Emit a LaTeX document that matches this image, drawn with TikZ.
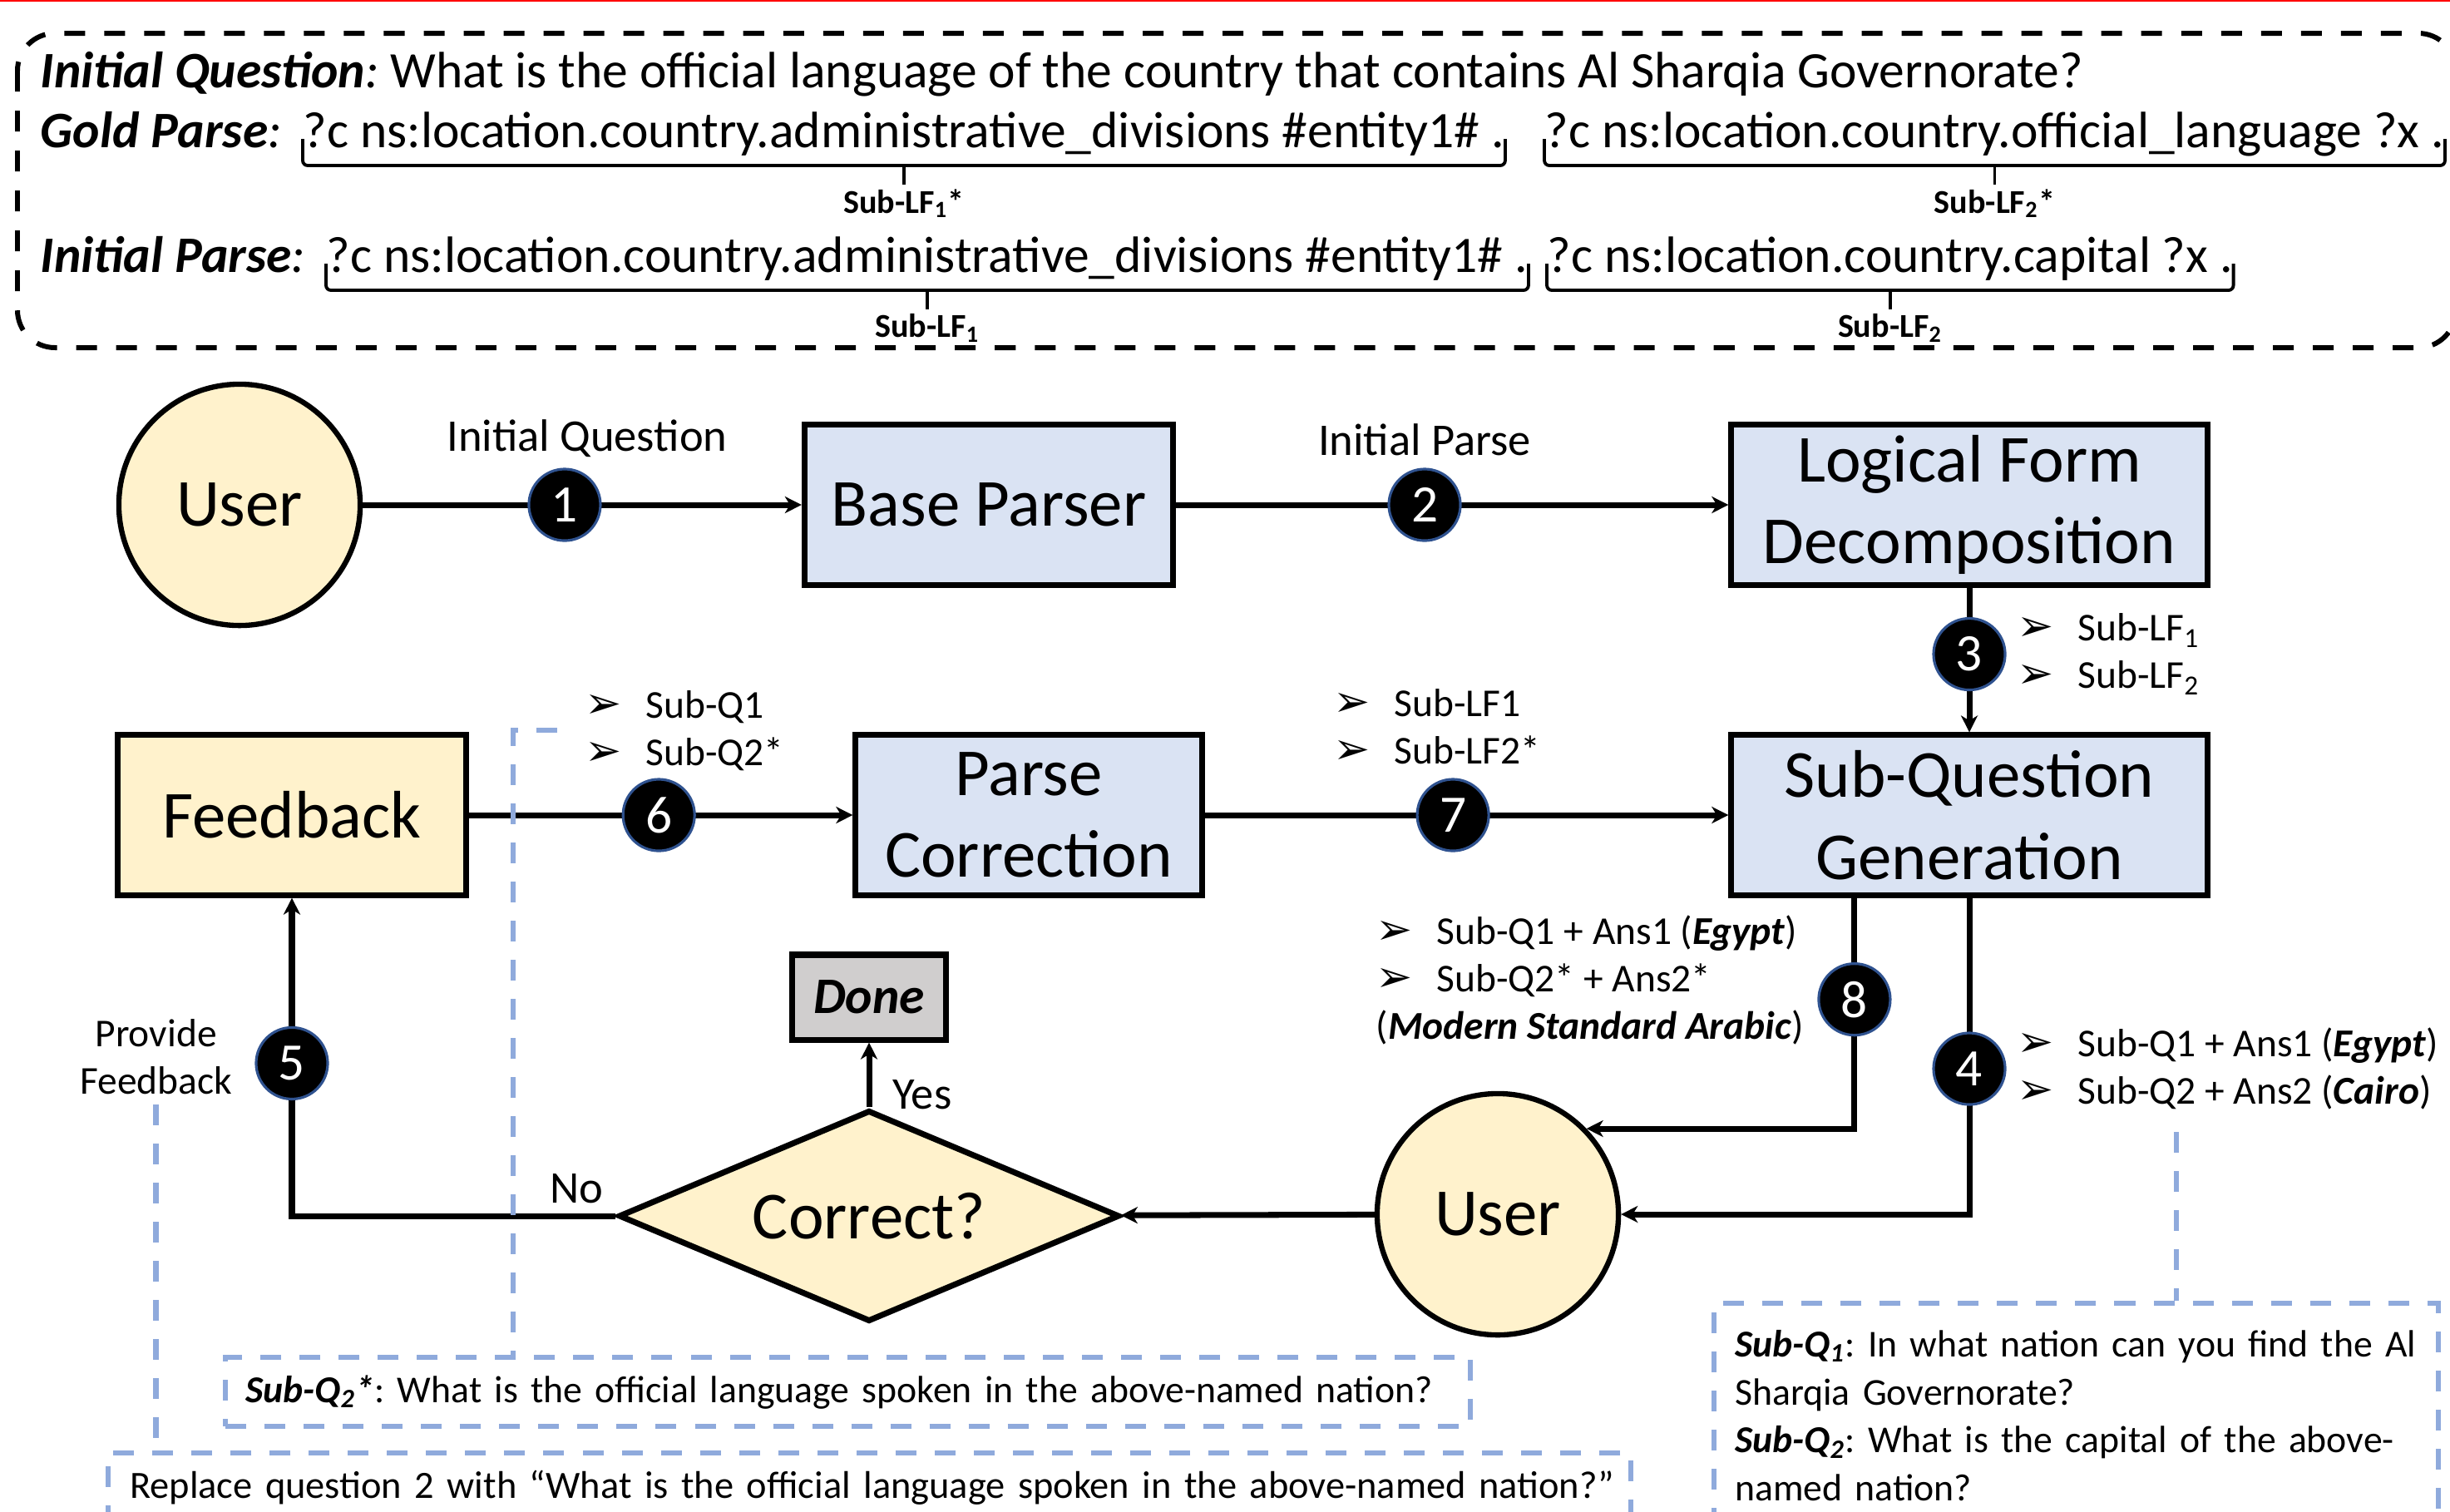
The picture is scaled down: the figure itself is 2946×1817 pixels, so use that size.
\documentclass[tikz,border=0pt]{standalone}
\usepackage{fontspec}
\setmainfont{Carlito}
\newfontfamily\arrowglyphfont{DejaVu Sans}
\usepackage{tikz}
\usetikzlibrary{positioning,shapes.geometric,arrows.meta}
\definecolor{procblue}{HTML}{DAE3F3}
\definecolor{useryellow}{HTML}{FFF2CC}
\definecolor{donegray}{HTML}{D0CECE}
\definecolor{notesblue}{HTML}{8FAADC}
\definecolor{badgerim}{HTML}{2F528F}
\newcommand*\boxsize {\fontsize{23}{28}\selectfont}
\newcommand*\donesize{\fontsize{17.5}{20}\selectfont}
\newcommand*\lblsize {\fontsize{15.5}{17}\selectfont}
\newcommand*\pfbsize {\fontsize{13.5}{16.2}\selectfont}
\newcommand*\listsize{\fontsize{13.5}{16.2}\selectfont}
\newcommand*\notesize{\fontsize{13}{16.4}\selectfont}
\newcommand*\topsize {\fontsize{17.5}{20}\selectfont}
\newcommand*\tagsize {\fontsize{11.4}{13}\selectfont}
\newcommand*\numsize {\fontsize{18}{20}\selectfont}
\newcommand*\bul{\makebox[0.73cm][l]{\arrowglyphfont\fontsize{15}{16}\selectfont ➢}}
\tikzset{
    flow/.style      = {line width=2pt, -{Stealth[length=0.2cm,width=0.2cm,inset=0.06cm]}},
    proc/.style      = {draw, line width=2pt, fill=procblue, font=\boxsize,
                        align=center, inner sep=0pt, minimum height=1.92cm},
    feedbox/.style   = {proc, fill=useryellow},
    donebox/.style   = {proc, fill=donegray, font=\donesize,
                        minimum width=1.84cm, minimum height=1.02cm},
    person/.style    = {draw, circle, line width=1.8pt, fill=useryellow,
                        font=\boxsize, minimum size=2.9cm, inner sep=0pt},
    decision/.style  = {draw, diamond, line width=2pt, fill=useryellow,
                        font=\boxsize, shape aspect=2.37, inner sep=0pt,
                        minimum width=6.02cm, minimum height=2.54cm},
    badge/.style     = {draw=badgerim, circle, fill=black, line width=0.9pt,
                        minimum size=0.86cm, inner sep=0pt, text=white, font=\numsize},
    edgelbl/.style   = {font=\lblsize},
    bullets/.style   = {font=\listsize, align=left, inner sep=0pt},
    topline/.style   = {font=\topsize, inner sep=0pt},
    topframe/.style  = {draw, line width=1.7pt, dash pattern=on 0.25cm off 0.23cm,
                        rounded corners=0.45cm},
    lfbracket/.style = {line width=1.1pt, rounded corners=0.06cm},
    lftag/.style     = {font=\tagsize\bfseries, inner sep=1pt},
    notebox/.style   = {draw=notesblue, line width=1.8pt, dash pattern=on 0.25cm off 0.22cm,
                        font=\notesize, align=left, anchor=north west},
    notelink/.style  = {draw=notesblue, line width=1.8pt, dash pattern=on 0.25cm off 0.22cm},
}
\begin{document}
\frenchspacing
\begin{tikzpicture}[x=0.01cm, y=-0.01cm]
    \useasboundingbox (0,0) rectangle (2946,1817);
    \draw[red, line width=0.8pt] (0,1) -- (2946,1);

    % Frame with the question and the two parses
    \draw[topframe] (21,40) rectangle (2953,418);
    \node[topline, anchor=base west] (iq)  at (48,105)   {\textbf{\textit{Initial Question}}\textit{:} What is the official language of the country that contains Al Sharqia Governorate?};
    \node[topline, anchor=base west] (gp)  at (48,177)   {\textbf{\textit{Gold Parse}}\textit{:}};
    \node[topline, anchor=base west] (gp1) at (364,177)  {?c ns:location.country.administrative\_divisions \#entity1\# .};
    \node[topline, anchor=base west] (gp2) at (1857,177) {?c ns:location.country.official\_language ?x .};
    \node[topline, anchor=base west] (ip)  at (48,327)   {\textbf{\textit{Initial Parse}}\textit{:}};
    \node[topline, anchor=base west] (ip1) at (392,327)  {?c ns:location.country.administrative\_divisions \#entity1\# .};
    \node[topline, anchor=base west] (ip2) at (1860,327) {?c ns:location.country.capital ?x .};

    % Brackets under each sub logical form
    \foreach \seg/\tag in {gp1/{Sub-LF\textsubscript{1}*}, gp2/{Sub-LF\textsubscript{2}*},
                           ip1/{Sub-LF\textsubscript{1}}, ip2/{Sub-LF\textsubscript{2}}} {
        \draw[lfbracket] ([yshift=0.1cm]\seg.base west) -- ([yshift=-0.22cm]\seg.base west)
            -- ([yshift=-0.22cm]\seg.base east) -- ([yshift=0.1cm]\seg.base east);
        \draw[lfbracket] ([yshift=-0.22cm]\seg.base) -- ([yshift=-0.45cm]\seg.base)
            node[lftag, below] (\seg-tag) {\tag};
    }

    % Pipeline blocks
    \node[person] (user1) at (288,607) {User};
    \node[proc, minimum width=4.43cm] (bp)  at (1189,607) {Base Parser};
    \node[proc, minimum width=5.72cm] (lfd) at (2368,607) {Logical Form\\Decomposition};
    \node[proc, minimum width=5.72cm] (sqg) at (2368,980) {Sub-Question\\Generation};
    \node[proc, minimum width=4.16cm] (pc)  at (1237,980) {Parse\\Correction};
    \node[feedbox, minimum width=4.18cm] (fb) at (351,980) {Feedback};
    \node[person] (user2) at (1801,1460) {User};
    \node[decision] (corr) at (1045,1462) {Correct?};
    \node[donebox] (done) at (1045,1199) {\textbf{\textit{Done}}};

    % Numbered steps
    \draw[flow] (user1) -- node[badge, pos=.46] (n1) {1} (bp);
    \draw[flow] (bp) -- node[badge, pos=.45] (n2) {2} (lfd);
    \draw[flow] (lfd) -- node[badge, pos=.46] (n3) {3} (sqg);
    \draw[flow] (sqg.south) |- node[badge, pos=.27] (n4) {4} (user2);
    \draw[flow] (corr) -| node[badge, pos=.74] (n5) {5}
        node[edgelbl, pos=.06, above] (nolbl) {No} (fb);
    \draw[flow] (fb) -- node[badge, pos=.495] (n6) {6} (pc);
    \draw[flow] (pc) -- node[badge, pos=.474] (n7) {7} (sqg);
    \draw[flow] ([xshift=-1.38cm]sqg.south) |- node[badge, pos=.22] (n8) {8} (user2.44);
    \draw[flow] (user2) -- (corr);
    \draw[flow] (corr) -- node[edgelbl, pos=.2, right=0.13cm] (yeslbl) {Yes} (done);

    % Step labels
    \node[edgelbl, above=0cm of n1, xshift=0.27cm] (iqlbl) {Initial Question};
    \node[edgelbl, above=0.02cm of n2] (iplbl) {Initial Parse};
    \node[edgelbl, font=\pfbsize, align=center, left=0.15cm of n5, yshift=0.08cm] (pfb) {Provide\\Feedback};
    \node[bullets, right=0.12cm of n3] (l3) {\bul Sub-LF\textsubscript{1}\\\bul Sub-LF\textsubscript{2}};
    \node[bullets, right=0.12cm of n4] (l4) {\bul Sub-Q1 + Ans1 (\textbf{\textit{Egypt}})\\\bul Sub-Q2 + Ans2 (\textbf{\textit{Cairo}})};
    \node[bullets, anchor=west] (l6) at (703,879)  {\bul Sub-Q1\\\bul Sub-Q2*};
    \node[bullets, anchor=west] (l7) at (1603,874) {\bul Sub-LF1\\\bul Sub-LF2*};
    \node[bullets, anchor=west] (l8) at (1654,1178) {\bul Sub-Q1 + Ans1 (\textbf{\textit{Egypt}})\\\bul Sub-Q2* + Ans2*\\(\textbf{\textit{Modern Standard Arabic}})};

    % Notes in dashed blue boxes
    \node[notebox, minimum width=14.96cm, minimum height=0.83cm, text width=14.48cm,
          inner xsep=0.24cm] (sq2) at (268,1629)
          {\mbox{\textbf{\textit{Sub-Q\textsubscript{2}*}}: What is the official language spoken in the above-named nation?}};
    \node[notebox, font=\fontsize{13.2}{16.4}\selectfont, minimum width=18.3cm, minimum height=0.84cm,
          text width=17.78cm, inner xsep=0.26cm] (rep) at (127,1744)
          {\mbox{Replace question 2 with “What is the official language spoken in the above-named nation?”}};
    \node[notebox, minimum width=8.7cm, minimum height=2.7cm, text width=8.2cm,
          inner xsep=0.25cm] (sq) at (2058,1564)
          {\mbox{\textbf{\textit{Sub-Q\textsubscript{1}}}: In what nation can you find the Al}\\Sharqia Governorate?\\\mbox{\textbf{\textit{Sub-Q\textsubscript{2}}}: What is the capital of the above-}\\named nation?};

    \coordinate (q2stub) at (670,878);
    \coordinate (l4foot) at (2617,1361);
    \draw[notelink] (pfb.south) -- (pfb.south |- rep.north);
    \draw[notelink] (q2stub) -- ++(-0.53cm,0) coordinate (q2bend) -- (q2bend |- sq2.north);
    \draw[notelink] (l4foot) -- (l4foot |- sq.north);
\end{tikzpicture}
\end{document}
